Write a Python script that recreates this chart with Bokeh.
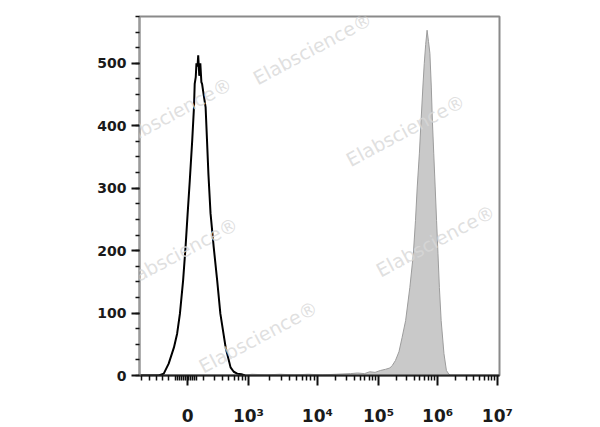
import numpy as np
from bokeh.plotting import figure
from bokeh.models import Range1d, FixedTicker, Label
from bokeh.embed import file_html
from bokeh.resources import INLINE

# ---- axis definition (biexponential display, channel units 0-1024) ----
x_tick_pos = [137, 310, 506, 680, 848, 1018]
x_tick_labels = ["0", "10³", "10⁴", "10⁵", "10⁶", "10⁷"]
decade_pos = [125, 310, 506, 680, 848, 1018]      # 10^2 ... 10^7
zero_minor = [102, 108, 114, 120, 126, 132, 138, 144, 150, 156, 162]
neg_minor = [6, 28, 48, 65, 82]

y_ticks = [0, 100, 200, 300, 400, 500]

# ---- data: control (black outline) ----
ctrl_x = [0, 30, 55, 69, 83, 98, 107, 115, 124, 131,
          137, 143, 150, 155, 157, 160, 162, 165, 167, 170,
          173, 176, 178, 183, 188, 192, 196, 202, 211, 221,
          230, 245, 259, 268, 278, 290, 300]
ctrl_y = [0, 0, 0, 3, 19, 45, 67, 99, 152, 206,
          260, 312, 377, 430, 467, 478, 500, 495, 513, 480,
          500, 470, 467, 448, 430, 377, 323, 260, 206, 152,
          99, 45, 13, 6, 3, 2, 0]

# ---- data: stained sample (gray filled) ----
stain_x = [290, 320, 360, 400, 440, 480, 520, 560, 600, 620,
           640, 655, 670, 685, 700, 712, 719, 728, 738, 747,
           757, 769, 779, 785, 790, 796, 801, 806, 810, 814,
           818, 822, 826, 830, 833, 837, 841, 845, 849, 853,
           858, 866, 873, 880, 885, 900]
stain_y = [0, 2, 1, 2, 1, 2, 1, 2, 3, 4,
           3, 6, 5, 8, 10, 12, 16, 24, 38, 61,
           88, 141, 195, 248, 302, 355, 409, 462, 500, 530,
           553, 535, 516, 462, 409, 355, 302, 248, 195, 141,
           88, 35, 8, 2, 0, 0]

watermark_text = "Elabscience®"
watermark_at = [(492, 524), (94, 420), (757, 393), (111, 196), (842, 216), (338, 62)]

# minor ticks of the x axis
x_minor = list(neg_minor) + list(zero_minor)
for a, b in zip(decade_pos[:-1], decade_pos[1:]):
    for m in range(2, 10):
        x_minor.append(a + (b - a) * np.log10(m))

p = figure(frame_width=360, frame_height=359,
           min_border_left=139, min_border_right=92,
           min_border_top=16, min_border_bottom=51,
           x_range=Range1d(0, 1024), y_range=Range1d(0, 575),
           output_backend="svg", toolbar_location=None)

p.background_fill_color = "white"
p.border_fill_color = "white"
p.outline_line_color = "#8a8a8a"
p.outline_line_width = 2
p.xgrid.visible = False
p.ygrid.visible = False

# stained histogram (gray fill)
p.varea(x=stain_x, y1=0, y2=stain_y, fill_color="#c9c9c9", fill_alpha=1.0)
p.line(stain_x, stain_y, line_color="#9c9c9c", line_width=1)

# control histogram (black line)
p.line(ctrl_x, ctrl_y, line_color="black", line_width=2)

for (wx, wy) in watermark_at:
    p.add_layout(Label(x=wx, y=wy, text=watermark_text, angle=28, angle_units="deg",
                       text_align="center", text_baseline="middle",
                       text_color="#d8d8d8", text_alpha=0.8,
                       text_font="DejaVu Sans", text_font_size="19px"))

# x axis
xa = p.xaxis[0]
xa.ticker = FixedTicker(ticks=x_tick_pos, minor_ticks=x_minor)
xa.major_label_overrides = {t: l for t, l in zip(x_tick_pos, x_tick_labels)}
xa.axis_line_color = "#222222"
xa.axis_line_width = 2
xa.major_tick_line_color = "#111111"
xa.major_tick_line_width = 2
xa.major_tick_out = 10
xa.major_tick_in = 0
xa.minor_tick_line_color = "#111111"
xa.minor_tick_line_width = 1.5
xa.minor_tick_out = 5
xa.minor_tick_in = 0
xa.major_label_standoff = 20
xa.major_label_text_font = "DejaVu Sans"
xa.major_label_text_font_style = "bold"
xa.major_label_text_font_size = "17px"
xa.major_label_text_color = "#1a1a1a"

# y axis
ya = p.yaxis[0]
ya.ticker = FixedTicker(ticks=y_ticks, minor_ticks=list(range(0, 576, 25)))
ya.axis_line_color = "#9a9a9a"
ya.axis_line_width = 2
ya.major_tick_line_color = "#111111"
ya.major_tick_line_width = 2
ya.major_tick_out = 8
ya.major_tick_in = 0
ya.minor_tick_line_color = "#111111"
ya.minor_tick_line_width = 1.5
ya.minor_tick_out = 4
ya.minor_tick_in = 0
ya.major_label_standoff = 5
ya.major_label_text_font = "DejaVu Sans"
ya.major_label_text_font_style = "bold"
ya.major_label_text_font_size = "14px"
ya.major_label_text_color = "#1a1a1a"

open("out.html", "w").write(file_html(p, INLINE))
